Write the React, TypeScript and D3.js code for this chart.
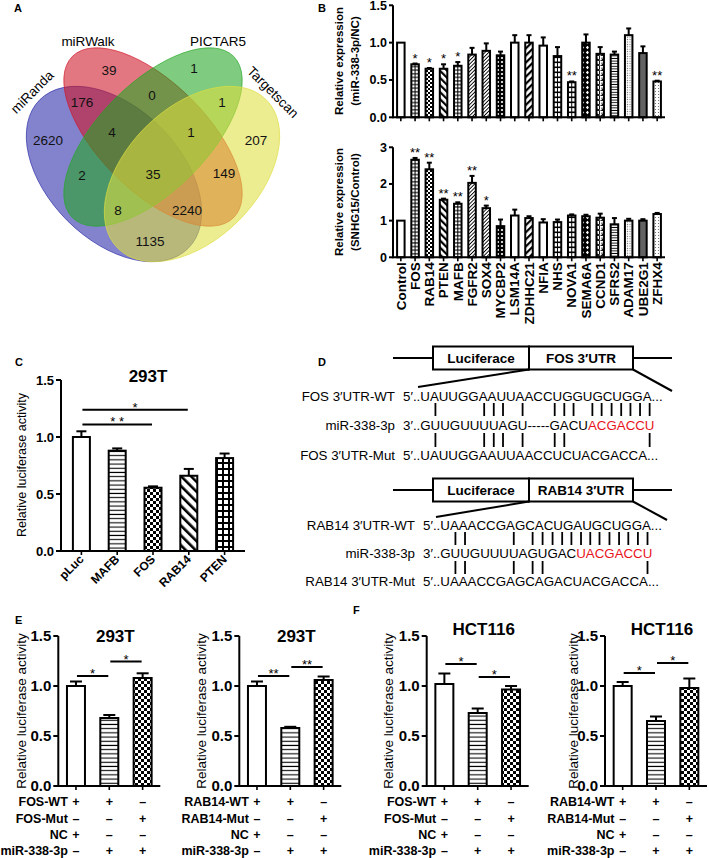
import React, { useLayoutEffect, useRef, useState } from 'react';
import * as d3 from 'd3';

const FONT = "'Liberation Sans', Arial, Helvetica, sans-serif";

/* ---------------- Panel A : Venn ---------------- */
const vennSets = ['miRanda', 'miRWalk', 'PICTAR5', 'Targetscan'];
const vennRegions = ['A', 'W', 'P', 'T', 'AW', 'WP', 'PT', 'AWP', 'WPT', 'AP', 'AWPT', 'WT', 'APT', 'AWT', 'AT'];
const vennCounts = [2620, 39, 1, 207, 176, 0, 1, 4, 1, 2, 35, 149, 8, 2240, 1135];

/* ---------------- Panel B ---------------- */
const bGenes = ['Control', 'FOS', 'RAB14', 'PTEN', 'MAFB', 'FGFR2', 'SOX4', 'MYCBP2', 'LSM14A', 'ZDHHC21', 'NFIA', 'NHS', 'NOVA1', 'SEMA6A', 'CCND1', 'SFRS2', 'ADAM17', 'UBE2G1', 'ZFHX4'];
const bMirValues = [1.0, 0.71, 0.65, 0.65, 0.69, 0.84, 0.89, 0.83, 1.0, 1.0, 0.96, 0.82, 0.47, 1.0, 0.85, 0.84, 1.10, 0.86, 0.48];
const bMirErrors = [0, 0.01, 0.01, 0.06, 0.05, 0.09, 0.10, 0.05, 0.10, 0.10, 0.11, 0.12, 0.01, 0.11, 0.09, 0.04, 0.09, 0.09, 0.01];
const bMirSig = ['', '*', '*', '*', '*', '', '', '', '', '', '', '', '**', '', '', '', '', '', '**'];
const bSnhgValues = [1.0, 2.66, 2.4, 1.57, 1.46, 2.03, 1.34, 0.85, 1.14, 1.07, 0.95, 0.96, 1.14, 1.12, 1.08, 0.9, 1.0, 1.0, 1.18];
const bSnhgErrors = [0, 0.05, 0.18, 0.03, 0.04, 0.19, 0.07, 0.18, 0.16, 0.05, 0.09, 0.07, 0.03, 0.04, 0.11, 0.17, 0.05, 0.04, 0.03];
const bSnhgSig = ['', '**', '**', '**', '**', '**', '*', '', '', '', '', '', '', '', '', '', '', '', ''];
const bMirTicks = [0, 0.5, 1.0, 1.5];
const bSnhgTicks = [0, 1, 2, 3];

/* ---------------- Panel C ---------------- */
const cConstructs = ['pLuc', 'MAFB', 'FOS', 'RAB14', 'PTEN'];
const cValues = [1.0, 0.88, 0.555, 0.66, 0.815];
const cErrors = [0.05, 0.02, 0.012, 0.06, 0.04];
const cBrackets = [
  { a: 0, b: 3, y: 1.24, label: '*' },
  { a: 0, b: 2, y: 1.11, label: '* *' },
];
const lucTicks = [0, 0.5, 1.0, 1.5];

/* ---------------- Panel D ---------------- */
const fosLabels = ['FOS 3\u2032UTR-WT', 'miR-338-3p', 'FOS 3\u2032UTR-Mut'];
const fosWT = '5\u2032..UAUUGGAAUUAACCUGGUGCUGGA...';
const fosMirBlack = '3\u2032..GUUGUUUUAGU-----GACU';
const fosMirRed = 'ACGACCU';
const fosMut = '5\u2032..UAUUGGAAUUAACCUCUACGACCA...';
const fosPairsWT = [5, 10, 11, 12, 14, 20, 21, 22, 24, 25, 26, 27, 28, 29, 30];
const fosPairsMut = [5, 10, 11, 12, 14, 20, 21, 30];
const rabLabels = ['RAB14 3\u2032UTR-WT', 'miR-338-3p', 'RAB14 3\u2032UTR-Mut'];
const rabWT = '5\u2032..UAAACCGAGCACUGAUGCUGGA...';
const rabMirBlack = '3\u2032..GUUGUUUUAGUGAC';
const rabMirRed = 'UACGACCU';
const rabMut = '5\u2032..UAAACCGAGCAGACUACGACCA...';
const rabPairsWT = [5, 6, 11, 13, 14, 15, 16, 17, 18, 19, 20, 21, 22, 23, 24, 25];
const rabPairsMut = [5, 6, 11, 13, 14, 25];

/* ---------------- Panels E / F ---------------- */
const efGroups = ['g1', 'g2', 'g3'];
const fosRows = ['FOS-WT', 'FOS-Mut', 'NC', 'miR-338-3p'];
const rabRows = ['RAB14-WT', 'RAB14-Mut', 'NC', 'miR-338-3p'];
const rowSigns = [['+', '+', '\u2013'], ['\u2013', '\u2013', '+'], ['+', '\u2013', '\u2013'], ['\u2013', '+', '+']];
const e1Values = [1.0, 0.68, 1.08];
const e1Errors = [0.045, 0.03, 0.047];
const e1Brackets = [{ a: 0, b: 1, y: 1.10, label: '*' }, { a: 1, b: 2, y: 1.245, label: '*' }];
const e2Values = [1.0, 0.58, 1.06];
const e2Errors = [0.045, 0.012, 0.035];
const e2Brackets = [{ a: 0, b: 1, y: 1.10, label: '**' }, { a: 1, b: 2, y: 1.19, label: '**' }];
const f1Values = [1.02, 0.73, 0.965];
const f1Errors = [0.105, 0.045, 0.035];
const f1Brackets = [{ a: 0, b: 1, y: 1.22, label: '*' }, { a: 1, b: 2, y: 1.09, label: '*' }];
const f2Values = [1.0, 0.65, 0.98];
const f2Errors = [0.04, 0.045, 0.095];
const f2Brackets = [{ a: 0, b: 1, y: 1.13, label: '*' }, { a: 1, b: 2, y: 1.23, label: '*' }];

/* ---------------- styles / layout ---------------- */
const vennColors = ['#2a2aa8', '#cf1526', '#23a623', '#dede40'];
const vennGeom = [
  { cx: 114, cy: 174, rot: 45, rx: 105, ry: 66 },
  { cx: 153, cy: 137, rot: 45, rx: 114, ry: 54 },
  { cx: 153, cy: 137, rot: -45, rx: 114, ry: 54 },
  { cx: 192, cy: 174, rot: -45, rx: 105, ry: 66 },
];
const vennCountPos: Record<string, [number, number]> = {
  A: [48, 140], W: [109, 70], P: [194, 68], T: [256, 140], AW: [82, 102], WP: [152, 95], PT: [222, 102],
  AWP: [112, 132], WPT: [191, 132], AP: [82, 175], AWPT: [153, 174], WT: [224, 173], APT: [118, 210],
  AWT: [187, 210], AT: [150, 241],
};
const vennNamePos = [
  { x: 32, y: 92, rot: -45 },
  { x: 88, y: 41, rot: 0 },
  { x: 218, y: 41, rot: 0 },
  { x: 273, y: 92, rot: 45 },
];
const bFills = ['white', 'ladder', 'checkS', 'diagB', 'ladder', 'diagF', 'diagF', 'dotsW', 'white', 'diagW', 'white', 'ladderW', 'ladderW', 'diamW', 'meander', 'hlF', 'dotsL', 'dotsD', 'dotsS'];
const cFills = ['white', 'hlE', 'checkE', 'diagC', 'gridC'];
const efFills = ['white', 'hlE', 'checkE'];

function Patterns() {
  return (
    <defs>
      <pattern id="hlE" width="10" height="4.2" patternUnits="userSpaceOnUse">
        <rect width="10" height="4.2" fill="#fff" />
        <rect y="1.5" width="10" height="1.1" fill="#000" />
      </pattern>
      <pattern id="ladder" width="10" height="3.6" patternUnits="userSpaceOnUse">
        <rect width="10" height="3.6" fill="#fff" />
        <rect y="1.2" width="10" height="1.1" fill="#000" />
      </pattern>
      <pattern id="ladderW" width="10" height="5" patternUnits="userSpaceOnUse">
        <rect width="10" height="5" fill="#fff" />
        <rect y="1.5" width="10" height="1.6" fill="#000" />
      </pattern>
      <pattern id="hlF" width="10" height="2.6" patternUnits="userSpaceOnUse">
        <rect width="10" height="2.6" fill="#fff" />
        <rect y="0.8" width="10" height="0.9" fill="#000" />
      </pattern>
      <pattern id="checkE" width="6" height="6" patternUnits="userSpaceOnUse">
        <rect width="6" height="6" fill="#fff" />
        <rect width="3" height="3" fill="#000" />
        <rect x="3" y="3" width="3" height="3" fill="#000" />
      </pattern>
      <pattern id="checkS" width="4" height="4" patternUnits="userSpaceOnUse">
        <rect width="4" height="4" fill="#fff" />
        <rect width="2" height="2" fill="#000" />
        <rect x="2" y="2" width="2" height="2" fill="#000" />
      </pattern>
      <pattern id="diagB" width="5" height="5" patternUnits="userSpaceOnUse" patternTransform="rotate(-45)">
        <rect width="5" height="5" fill="#fff" />
        <rect width="2.2" height="5" fill="#000" />
      </pattern>
      <pattern id="diagW" width="5" height="5" patternUnits="userSpaceOnUse" patternTransform="rotate(45)">
        <rect width="5" height="5" fill="#fff" />
        <rect width="2.2" height="5" fill="#000" />
      </pattern>
      <pattern id="diagF" width="2.6" height="4" patternUnits="userSpaceOnUse" patternTransform="rotate(45)">
        <rect width="2.6" height="4" fill="#fff" />
        <rect width="0.9" height="4" fill="#000" />
      </pattern>
      <pattern id="diagC" width="7" height="7" patternUnits="userSpaceOnUse" patternTransform="rotate(-45)">
        <rect width="7" height="7" fill="#fff" />
        <rect width="2.6" height="7" fill="#000" />
      </pattern>
      <pattern id="gridC" width="6" height="6" patternUnits="userSpaceOnUse">
        <rect width="6" height="6" fill="#fff" />
        <rect width="6" height="2" fill="#000" />
        <rect width="2" height="6" fill="#000" />
      </pattern>
      <pattern id="dotsW" width="4" height="4" patternUnits="userSpaceOnUse">
        <rect width="4" height="4" fill="#000" />
        <circle cx="2" cy="2" r="1.1" fill="#fff" />
      </pattern>
      <pattern id="diamW" width="5" height="5" patternUnits="userSpaceOnUse">
        <rect width="5" height="5" fill="#000" />
        <path d="M2.5 0.8 L4.2 2.5 L2.5 4.2 L0.8 2.5Z" fill="#fff" />
      </pattern>
      <pattern id="meander" width="5" height="5" patternUnits="userSpaceOnUse">
        <rect width="5" height="5" fill="#fff" />
        <path d="M0.5 0.5H4.5V4.5H2V2.5" stroke="#000" strokeWidth="0.9" fill="none" />
      </pattern>
      <pattern id="dotsL" width="2.4" height="2.4" patternUnits="userSpaceOnUse">
        <rect width="2.4" height="2.4" fill="#fff" />
        <circle cx="1.2" cy="1.2" r="0.55" fill="#555" />
      </pattern>
      <pattern id="dotsD" width="2" height="2" patternUnits="userSpaceOnUse">
        <rect width="2" height="2" fill="#999" />
        <circle cx="1" cy="1" r="0.7" fill="#000" />
      </pattern>
      <pattern id="dotsS" width="3" height="3" patternUnits="userSpaceOnUse">
        <rect width="3" height="3" fill="#fff" />
        <circle cx="1.5" cy="1.5" r="0.5" fill="#444" />
      </pattern>
    </defs>
  );
}

type Bracket = { a: number; b: number; y: number; label: string };
type BarProps = {
  cats: string[]; values: number[]; errors: number[]; fills: string[];
  x0: number; x1: number; pad: number;
  yMax: number; yBottom: number; yTop: number; ticks: number[]; fmt: (v: number) => string; tickFs: number;
  barW: number; capW: number; stars?: string[]; starFs?: number; brackets?: Bracket[];
  xLabelMode?: 'none' | 'vertical' | 'diag'; xLabelFs?: number; tickLen?: number;
};

function BarPanel(p: BarProps) {
  const x = d3.scalePoint<string>().domain(p.cats).range([p.x0, p.x1]).padding(p.pad);
  const y = d3.scaleLinear().domain([0, p.yMax]).range([p.yBottom, p.yTop]);
  const base = y(0);
  const tl = p.tickLen ?? 5;
  return (
    <g>
      {p.cats.map((c, i) => {
        const cx = x(c) as number;
        const v = p.values[i];
        const e = p.errors[i];
        const f = p.fills[i];
        const top = y(v + e);
        return (
          <g key={c}>
            {e > 0 && (
              <g stroke="#000" strokeWidth={2}>
                <line x1={cx} x2={cx} y1={y(v)} y2={top} />
                <line x1={cx - p.capW / 2} x2={cx + p.capW / 2} y1={top} y2={top} />
              </g>
            )}
            <rect x={cx - p.barW / 2} y={y(v)} width={p.barW} height={base - y(v)}
              fill={f === 'white' ? '#fff' : `url(#${f})`} stroke="#000" strokeWidth={2} />
            {f.startsWith('ladder') && (
              <line x1={cx} x2={cx} y1={y(v)} y2={base} stroke="#000" strokeWidth={1} />
            )}
            {p.stars && p.stars[i] && (
              <text x={cx} y={top - 1} textAnchor="middle" fontSize={p.starFs ?? 12}>{p.stars[i]}</text>
            )}
            <line x1={cx} x2={cx} y1={base} y2={base + 4} stroke="#000" strokeWidth={1.6} />
            {p.xLabelMode === 'vertical' && (
              <text transform={`translate(${cx},${base + 5}) rotate(-90)`} dy="0.35em" textAnchor="end"
                fontSize={p.xLabelFs} fontWeight="bold">{c}</text>
            )}
            {p.xLabelMode === 'diag' && (
              <text transform={`translate(${cx + 3},${base + 9}) rotate(-45)`} textAnchor="end"
                fontSize={p.xLabelFs} fontWeight="bold">{c}</text>
            )}
          </g>
        );
      })}
      <line x1={p.x0} x2={p.x1} y1={base} y2={base} stroke="#000" strokeWidth={2} />
      <line x1={p.x0} x2={p.x0} y1={base + 1} y2={y(p.yMax)} stroke="#000" strokeWidth={2} />
      {p.ticks.map((t) => (
        <g key={t}>
          <line x1={p.x0 - tl} x2={p.x0} y1={y(t)} y2={y(t)} stroke="#000" strokeWidth={2} />
          <text x={p.x0 - tl - 2} y={y(t)} dy="0.36em" textAnchor="end" fontSize={p.tickFs} fontWeight="bold">{p.fmt(t)}</text>
        </g>
      ))}
      {(p.brackets || []).map((b, i) => {
        const xa = x(p.cats[b.a]) as number;
        const xb = x(p.cats[b.b]) as number;
        return (
          <g key={i}>
            <line x1={xa + 1} x2={xb - 1} y1={y(b.y)} y2={y(b.y)} stroke="#000" strokeWidth={2} />
            <text x={(xa + xb) / 2} y={y(b.y) + 2} textAnchor="middle" fontSize={13}>{b.label}</text>
          </g>
        );
      })}
    </g>
  );
}

function YLabel({ lines, xs, cy, fs, bold }: { lines: string[]; xs: number[]; cy: number; fs: number; bold?: boolean }) {
  return (
    <g>
      {lines.map((l, i) => (
        <text key={i} transform={`translate(${xs[i]},${cy}) rotate(-90)`} textAnchor="middle" dy="0.35em"
          fontSize={fs} fontWeight={bold ? 'bold' : 'normal'}>{l}</text>
      ))}
    </g>
  );
}

function PanelA() {
  return (
    <g>
      <text x={14} y={12} fontSize={11} fontWeight="bold">A</text>
      {vennSets.map((s, i) => {
        const g = vennGeom[i];
        return (
          <ellipse key={s} cx={g.cx} cy={g.cy} rx={g.rx} ry={g.ry}
            transform={`rotate(${g.rot} ${g.cx} ${g.cy})`}
            fill={vennColors[i]} fillOpacity={0.58} stroke={vennColors[i]} strokeOpacity={0.8} strokeWidth={0.8} />
        );
      })}
      {vennRegions.map((r, i) => {
        const [px, py] = vennCountPos[r];
        return <text key={r} x={px} y={py} dy="0.35em" textAnchor="middle" fontSize={13.5} fill="#111">{vennCounts[i]}</text>;
      })}
      {vennSets.map((s, i) => {
        const n = vennNamePos[i];
        return (
          <text key={s} transform={`translate(${n.x},${n.y}) rotate(${n.rot})`} dy="0.35em" textAnchor="middle" fontSize={13.5}>{s}</text>
        );
      })}
    </g>
  );
}

function PanelB() {
  const fmt1 = d3.format('.1f');
  const fmt0 = d3.format('d');
  return (
    <g>
      <text x={318} y={12} fontSize={11} fontWeight="bold">B</text>
      <BarPanel cats={bGenes} values={bMirValues} errors={bMirErrors} fills={bFills} stars={bMirSig} starFs={13}
        x0={393} x1={665} pad={0.55} yMax={1.5} yBottom={117.3} yTop={5.3} ticks={bMirTicks} fmt={fmt1}
        tickFs={12.5} barW={7.5} capW={5} xLabelMode="none" tickLen={4} />
      <BarPanel cats={bGenes} values={bSnhgValues} errors={bSnhgErrors} fills={bFills} stars={bSnhgSig} starFs={13}
        x0={393} x1={665} pad={0.55} yMax={3} yBottom={257.3} yTop={147.3} ticks={bSnhgTicks} fmt={fmt0}
        tickFs={12.5} barW={7.5} capW={5} xLabelMode="vertical" xLabelFs={13.5} tickLen={4} />
      <YLabel lines={['Relative expression', '(miR-338-3p/NC)']} xs={[339, 355]} cy={61} fs={11.5} bold />
      <YLabel lines={['Relative expression', '(SNHG15/Control)']} xs={[339, 355]} cy={202} fs={11.5} bold />
    </g>
  );
}

function PanelC() {
  return (
    <g>
      <text x={15} y={366} fontSize={11} fontWeight="bold">C</text>
      <text x={148} y={382} textAnchor="middle" fontSize={17} fontWeight="bold">293T</text>
      <BarPanel cats={cConstructs} values={cValues} errors={cErrors} fills={cFills} brackets={cBrackets}
        x0={61} x1={245} pad={0.57} yMax={1.5} yBottom={551} yTop={380} ticks={lucTicks} fmt={d3.format('.1f')}
        tickFs={13} barW={17} capW={10} xLabelMode="diag" xLabelFs={12} />
      <YLabel lines={['Relative luciferase activity']} xs={[22]} cy={465} fs={12.5} />
    </g>
  );
}

function Construct({ y, utr, slantL, slantR }: { y: number; utr: string; slantL: [number, number]; slantR: [number, number] }) {
  const h = 11.5;
  return (
    <g stroke="#000" strokeWidth={2}>
      <line x1={393} x2={433} y1={y} y2={y} />
      <line x1={633} x2={672} y1={y} y2={y} />
      <rect x={433} y={y - h} width={96} height={2 * h} fill="#fff" />
      <rect x={529} y={y - h} width={104} height={2 * h} fill="#fff" />
      <line x1={529} y1={y + h} x2={slantL[0]} y2={slantL[1]} />
      <line x1={633} y1={y + h} x2={slantR[0]} y2={slantR[1]} />
      <text x={481} y={y} dy="0.36em" textAnchor="middle" fontSize={13.5} fontWeight="bold" stroke="none">Luciferace</text>
      <text x={581} y={y} dy="0.36em" textAnchor="middle" fontSize={13.5} fontWeight="bold" stroke="none">{utr}</text>
    </g>
  );
}

type SeqProps = {
  labels: string[]; wt: string; mirBlack: string; mirRed: string; mut: string;
  pairsTop: number[]; pairsBot: number[]; labelRight: number; seqX: number;
  baselines: number[]; barTop: [number, number]; barBot: [number, number];
};
function SeqBlock(p: SeqProps) {
  const ref = useRef<SVGTextElement>(null);
  const [xs, setXs] = useState<number[]>([]);
  useLayoutEffect(() => {
    const node = ref.current;
    if (!node) return;
    const n = node.getNumberOfChars();
    const arr: number[] = [];
    for (let i = 0; i < n; i++) {
      const ext = node.getExtentOfChar(i);
      arr.push(ext.x + ext.width / 2);
    }
    setXs(arr);
  }, []);
  const fs = 13.3;
  return (
    <g fontSize={fs}>
      {p.labels.map((l, i) => (
        <text key={i} x={p.labelRight} y={p.baselines[i]} textAnchor="end">{l}</text>
      ))}
      <text x={p.seqX} y={p.baselines[0]}>{p.wt}</text>
      <text ref={ref} x={p.seqX} y={p.baselines[1]}>
        {p.mirBlack}
        <tspan fill="#e8141c">{p.mirRed}</tspan>
      </text>
      <text x={p.seqX} y={p.baselines[2]}>{p.mut}</text>
      {xs.length > 0 && (
        <g stroke="#000" strokeWidth={1.8}>
          {p.pairsTop.map((k) => (
            <line key={'t' + k} x1={xs[k]} x2={xs[k]} y1={p.barTop[0]} y2={p.barTop[1]} />
          ))}
          {p.pairsBot.map((k) => (
            <line key={'b' + k} x1={xs[k]} x2={xs[k]} y1={p.barBot[0]} y2={p.barBot[1]} />
          ))}
        </g>
      )}
    </g>
  );
}

function PanelD() {
  return (
    <g>
      <text x={318} y={366} fontSize={11} fontWeight="bold">D</text>
      <Construct y={358} utr={'FOS 3\u2032UTR'} slantL={[418, 387]} slantR={[672, 391]} />
      <SeqBlock labels={fosLabels} wt={fosWT} mirBlack={fosMirBlack} mirRed={fosMirRed} mut={fosMut}
        pairsTop={fosPairsWT} pairsBot={fosPairsMut} labelRight={395} seqX={403}
        baselines={[401, 430, 460]} barTop={[403, 416]} barBot={[433, 447]} />
      <Construct y={490} utr={'RAB14 3\u2032UTR'} slantL={[436, 517]} slantR={[667, 520]} />
      <SeqBlock labels={rabLabels} wt={rabWT} mirBlack={rabMirBlack} mirRed={rabMirRed} mut={rabMut}
        pairsTop={rabPairsWT} pairsBot={rabPairsMut} labelRight={415} seqX={423}
        baselines={[530, 558, 586]} barTop={[532, 545]} barBot={[561, 574]} />
    </g>
  );
}

function EFChart({ x0, title, titleY, values, errors, brackets, rows, ylabX }: {
  x0: number; title: string; titleY: number; values: number[]; errors: number[]; brackets: Bracket[]; rows: string[]; ylabX: number;
}) {
  const x = d3.scalePoint<string>().domain(efGroups).range([x0, x0 + 102]).padding(0.53);
  const rowY = [806, 822.5, 839, 855];
  return (
    <g>
      <text x={x0 + 57} y={titleY} textAnchor="middle" fontSize={17} fontWeight="bold">{title}</text>
      <BarPanel cats={efGroups} values={values} errors={errors} fills={efFills} brackets={brackets}
        x0={x0} x1={x0 + 102} pad={0.53} yMax={1.5} yBottom={786} yTop={636} ticks={lucTicks}
        fmt={d3.format('.1f')} tickFs={15} barW={18} capW={12} xLabelMode="none" />
      <YLabel lines={['Relative luciferase activity']} xs={[ylabX]} cy={711} fs={13.5} />
      {rows.map((r, i) => (
        <g key={r} fontSize={12.5} fontWeight="bold">
          <text x={x0 + 9.5} y={rowY[i]} textAnchor="end">{r}</text>
          {efGroups.map((g, j) => (
            <text key={g} x={x(g)} y={rowY[i]} textAnchor="middle">{rowSigns[i][j]}</text>
          ))}
        </g>
      ))}
    </g>
  );
}

function PanelEF() {
  return (
    <g>
      <text x={15} y={624} fontSize={11} fontWeight="bold">E</text>
      <text x={353} y={614} fontSize={11} fontWeight="bold">F</text>
      <EFChart x0={58.3} title="293T" titleY={642} values={e1Values} errors={e1Errors} brackets={e1Brackets} rows={fosRows} ylabX={21} />
      <EFChart x0={239.3} title="293T" titleY={642} values={e2Values} errors={e2Errors} brackets={e2Brackets} rows={rabRows} ylabX={201} />
      <EFChart x0={426.7} title="HCT116" titleY={635} values={f1Values} errors={f1Errors} brackets={f1Brackets} rows={fosRows} ylabX={388} />
      <EFChart x0={605} title="HCT116" titleY={635} values={f2Values} errors={f2Errors} brackets={f2Brackets} rows={rabRows} ylabX={573} />
    </g>
  );
}

export default function App() {
  return (
    <svg width={709} height={858} viewBox="0 0 709 858" fontFamily={FONT}
      style={{ position: 'absolute', left: 0, top: 0, display: 'block', background: '#fff' }}>
      <Patterns />
      <rect width={709} height={858} fill="#fff" />
      <PanelA />
      <PanelB />
      <PanelC />
      <PanelD />
      <PanelEF />
    </svg>
  );
}
